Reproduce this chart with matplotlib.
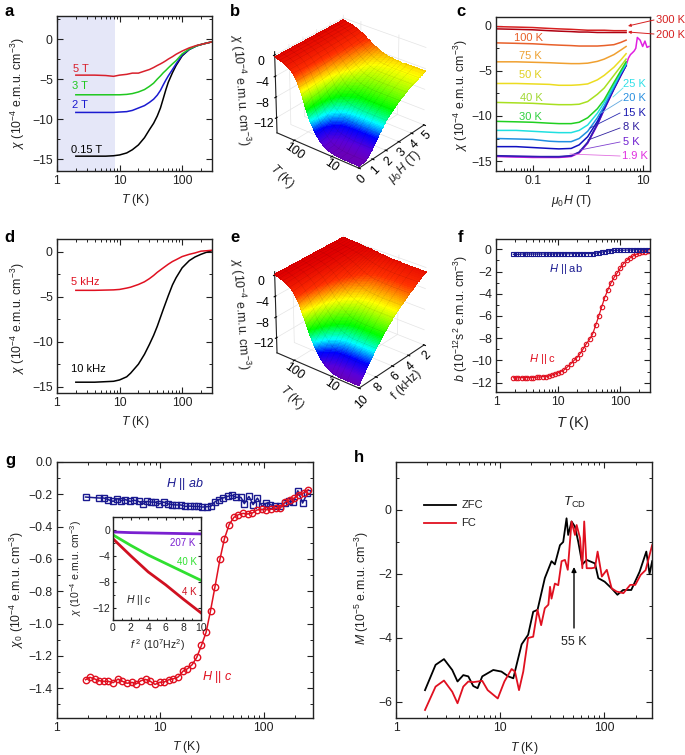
#!/usr/bin/env python3
"""Magnetic susceptibility figure: eight panels a-h."""

import matplotlib
matplotlib.use("Agg")
import matplotlib.pyplot as plt
import numpy as np
from matplotlib.colors import LinearSegmentedColormap
from matplotlib.lines import Line2D
from matplotlib.ticker import LogLocator, MultipleLocator, NullFormatter

plt.rcParams["font.family"] = ["Liberation Sans", "DejaVu Sans"]
plt.rcParams["mathtext.fontset"] = "custom"
plt.rcParams["mathtext.rm"] = "Liberation Sans"
plt.rcParams["mathtext.it"] = "Liberation Sans:italic"
plt.rcParams["mathtext.bf"] = "Liberation Sans:bold"
plt.rcParams["font.size"] = 8.8

W, H = 685, 755
INK = "#222222"
NOTE = 8
AXIS_LABEL = 8.8
CHI_LABEL = r"$\chi$ (10$^{-4}$ e.m.u. cm$^{-3}$)"

# panel a
T_A = [2, 3, 4, 6, 8, 10, 13, 16, 20, 25, 30, 35, 40, 45, 50, 55, 60, 70, 80, 100, 130, 170, 220, 300]
A_015T = [-14.6, -14.6, -14.6, -14.6, -14.55, -14.45, -14.2, -13.8, -13.2, -12.3, -11.3, -10.5, -9.6, -8.6, -7.4, -6.3, -5.4, -4.2, -3.3, -2.1, -1.3, -0.85, -0.6, -0.35]
A_2T = [-9.15, -9.15, -9.15, -9.15, -9.15, -9.1, -9.05, -8.9, -8.6, -8.3, -7.9, -7.5, -7.0, -6.4, -5.7, -5.1, -4.6, -3.8, -3.1, -2.0, -1.3, -0.85, -0.6, -0.35]
A_3T = [-6.95, -6.95, -6.95, -6.95, -6.95, -6.95, -6.9, -6.8, -6.6, -6.3, -5.9, -5.5, -5.0, -4.6, -4.2, -3.9, -3.6, -3.1, -2.7, -1.85, -1.25, -0.85, -0.6, -0.35]
A_5T = [-4.5, -4.5, -4.5, -4.55, -4.65, -4.5, -4.4, -4.25, -4.25, -4.0, -3.8, -3.55, -3.3, -3.1, -2.9, -2.7, -2.5, -2.2, -1.9, -1.5, -1.1, -0.8, -0.6, -0.35]

# panel b and e surfaces
T_SURF = [2, 4, 6, 8, 10, 13, 16, 20, 25, 30, 35, 40, 45, 50, 60, 70, 80, 100, 120, 150, 180, 220, 260, 300]
H_SURF = [0, 0.5, 1, 1.5, 2, 2.5, 3, 3.5, 4, 4.5, 5]
CHI_TH = [
    [-14.6, -14.5, -13.0, -11.0, -9.2, -8.0, -7.0, -6.2, -5.5, -5.0, -4.5],
    [-14.6, -14.5, -13.0, -11.0, -9.2, -8.0, -7.0, -6.2, -5.5, -5.0, -4.5],
    [-14.6, -14.5, -13.0, -11.0, -9.2, -8.0, -7.0, -6.2, -5.5, -5.0, -4.5],
    [-14.5, -14.4, -12.9, -10.9, -9.2, -8.0, -7.0, -6.2, -5.5, -5.0, -4.6],
    [-14.4, -14.3, -12.8, -10.9, -9.1, -8.0, -6.95, -6.15, -5.5, -5.0, -4.5],
    [-14.1, -14.0, -12.6, -10.8, -9.05, -7.9, -6.9, -6.1, -5.45, -4.9, -4.4],
    [-13.7, -13.6, -12.3, -10.6, -8.9, -7.8, -6.8, -6.0, -5.4, -4.85, -4.3],
    [-13.1, -12.9, -11.7, -10.2, -8.6, -7.6, -6.6, -5.9, -5.3, -4.75, -4.25],
    [-12.2, -11.9, -11.0, -9.7, -8.3, -7.3, -6.3, -5.65, -5.1, -4.55, -4.0],
    [-11.2, -10.85, -10.2, -9.2, -7.9, -6.9, -5.9, -5.3, -4.85, -4.3, -3.8],
    [-10.3, -9.8, -9.3, -8.4, -7.4, -6.5, -5.5, -4.95, -4.5, -4.0, -3.55],
    [-9.4, -8.75, -8.4, -7.6, -6.9, -6.0, -5.0, -4.6, -4.2, -3.7, -3.3],
    [-8.4, -7.8, -7.5, -6.9, -6.3, -5.5, -4.6, -4.25, -3.9, -3.45, -3.1],
    [-7.4, -6.6, -6.45, -6.0, -5.5, -4.9, -4.2, -3.85, -3.6, -3.2, -2.9],
    [-5.5, -5.3, -5.1, -4.9, -4.6, -4.1, -3.6, -3.3, -3.05, -2.75, -2.5],
    [-4.3, -4.25, -4.15, -3.95, -3.8, -3.45, -3.1, -2.85, -2.65, -2.4, -2.2],
    [-3.3, -3.25, -3.2, -3.1, -3.0, -2.85, -2.7, -2.45, -2.3, -2.1, -1.9],
    [-2.1, -2.2, -2.25, -2.2, -2.0, -1.95, -1.85, -1.8, -1.7, -1.6, -1.5],
    [-1.6, -1.6, -1.6, -1.55, -1.5, -1.45, -1.4, -1.4, -1.35, -1.3, -1.25],
    [-1.1, -1.1, -1.1, -1.1, -1.05, -1.05, -1.05, -1.0, -1.0, -1.0, -0.95],
    [-0.8, -0.8, -0.8, -0.8, -0.8, -0.8, -0.8, -0.8, -0.75, -0.75, -0.75],
    [-0.6, -0.6, -0.6, -0.6, -0.6, -0.6, -0.6, -0.6, -0.6, -0.6, -0.6],
    [-0.45, -0.45, -0.45, -0.45, -0.45, -0.45, -0.45, -0.45, -0.45, -0.45, -0.45],
    [-0.35, -0.35, -0.35, -0.35, -0.35, -0.35, -0.35, -0.35, -0.35, -0.35, -0.35],
]
F_SURF = [10, 9, 8, 7, 6, 5, 4, 3, 2]
CHI_TF = [
    [-14.5, -11.9, -9.5, -7.5, -5.7, -4.3, -3.0, -1.8, -0.8],
    [-14.5, -11.9, -9.5, -7.5, -5.7, -4.3, -3.0, -1.8, -0.8],
    [-14.5, -11.9, -9.5, -7.5, -5.7, -4.3, -3.0, -1.8, -0.8],
    [-14.4, -11.8, -9.45, -7.45, -5.65, -4.25, -2.95, -1.8, -0.8],
    [-14.2, -11.7, -9.35, -7.4, -5.6, -4.2, -2.9, -1.75, -0.75],
    [-13.7, -11.3, -9.05, -7.2, -5.45, -4.1, -2.85, -1.7, -0.7],
    [-13.2, -10.9, -8.75, -6.95, -5.3, -4.0, -2.8, -1.65, -0.7],
    [-12.4, -10.2, -8.2, -6.5, -5.0, -3.7, -2.6, -1.55, -0.65],
    [-11.3, -9.3, -7.5, -6.0, -4.6, -3.4, -2.4, -1.4, -0.6],
    [-10.2, -8.4, -6.8, -5.4, -4.15, -3.0, -2.15, -1.25, -0.5],
    [-9.1, -7.5, -6.1, -4.9, -3.7, -2.65, -1.9, -1.1, -0.45],
    [-8.2, -6.8, -5.5, -4.4, -3.3, -2.3, -1.7, -1.0, -0.4],
    [-7.2, -6.0, -4.9, -3.9, -2.95, -2.0, -1.5, -0.9, -0.35],
    [-6.3, -5.2, -4.3, -3.4, -2.55, -1.8, -1.3, -0.75, -0.3],
    [-4.8, -4.0, -3.3, -2.6, -1.95, -1.4, -1.0, -0.6, -0.25],
    [-3.6, -3.0, -2.5, -2.0, -1.5, -1.1, -0.8, -0.5, -0.2],
    [-2.8, -2.3, -1.9, -1.55, -1.15, -0.9, -0.65, -0.4, -0.15],
    [-1.8, -1.5, -1.25, -1.0, -0.75, -0.55, -0.4, -0.25, -0.1],
    [-1.2, -1.0, -0.85, -0.65, -0.5, -0.35, -0.25, -0.15, -0.05],
    [-0.7, -0.6, -0.45, -0.35, -0.25, -0.15, -0.1, -0.05, 0.0],
    [-0.45, -0.35, -0.3, -0.2, -0.15, -0.05, 0.0, 0.0, 0.05],
    [-0.2, -0.15, -0.1, -0.05, 0.0, 0.05, 0.05, 0.05, 0.05],
    [-0.05, 0.0, 0.0, 0.05, 0.05, 0.1, 0.1, 0.1, 0.1],
    [0.1, 0.1, 0.1, 0.1, 0.15, 0.15, 0.15, 0.15, 0.15],
]

# panel c
H_C = [0.022, 0.05, 0.1, 0.2, 0.3, 0.5, 0.7, 1, 1.5, 2, 3, 4, 5]
C_300K = [-0.1, -0.15, -0.2, -0.3, -0.35, -0.4, -0.45, -0.5, -0.5, -0.5, -0.55, -0.55, -0.55]
C_200K = [-0.35, -0.4, -0.45, -0.55, -0.6, -0.65, -0.7, -0.7, -0.75, -0.75, -0.75, -0.75, -0.75]
C_100K = [-1.9, -1.95, -2.0, -2.1, -2.15, -2.2, -2.25, -2.25, -2.25, -2.2, -2.1, -1.85, -1.6]
C_75K = [-4.0, -4.0, -4.05, -4.1, -4.15, -4.2, -4.2, -4.15, -3.95, -3.7, -3.2, -2.7, -2.3]
C_50K = [-6.4, -6.4, -6.45, -6.5, -6.6, -6.6, -6.55, -6.45, -6.0, -5.5, -4.6, -3.8, -3.1]
C_40K = [-8.5, -8.55, -8.6, -8.7, -8.75, -8.75, -8.7, -8.4, -7.6, -6.9, -5.5, -4.5, -3.7]
C_30K = [-10.6, -10.65, -10.7, -10.8, -10.85, -10.85, -10.7, -10.2, -9.2, -8.2, -6.3, -5.0, -4.0]
C_25K = [-11.6, -11.6, -11.7, -11.8, -11.85, -11.85, -11.6, -11.0, -9.7, -8.5, -6.6, -5.2, -4.2]
C_20K = [-12.5, -12.55, -12.6, -12.8, -12.85, -12.85, -12.5, -11.7, -10.2, -8.9, -6.8, -5.3, -4.3]
C_15K = [-13.4, -13.4, -13.5, -13.6, -13.65, -13.6, -13.2, -12.3, -10.6, -9.1, -6.9, -5.4, -4.4]
C_8K = [-14.4, -14.45, -14.5, -14.5, -14.5, -14.4, -14.0, -12.9, -10.9, -9.2, -7.0, -5.5, -4.4]
C_5K = [-14.45, -14.5, -14.5, -14.55, -14.55, -14.45, -14.05, -13.0, -10.95, -9.25, -7.0, -5.5, -4.4]
H_19K = [0.022, 0.05, 0.1, 0.2, 0.3, 0.5, 0.7, 1, 1.5, 2, 3, 4, 5, 5.5, 6, 6.5, 7, 7.5, 8, 9, 10, 11, 12, 13]
C_19K = [-14.5, -14.55, -14.6, -14.6, -14.6, -14.5, -14.1, -13.0, -11.0, -9.3, -7.05, -5.55, -4.4, -3.6, -3.2, -3.0, -2.8, -2.5, -1.3, -1.6, -2.3, -1.7, -2.4, -2.3]

# panel d
T_D = [2, 4, 8, 10, 13, 15, 20, 25, 30, 35, 40, 50, 60, 70, 80, 100, 130, 160, 200, 250, 300]
D_10K = [-14.5, -14.5, -14.4, -14.25, -13.9, -13.5, -12.5, -11.4, -10.3, -9.3, -8.3, -6.4, -4.9, -3.7, -2.9, -1.8, -1.0, -0.6, -0.3, -0.05, 0.1]
D_5K = [-4.3, -4.3, -4.25, -4.2, -4.05, -3.95, -3.65, -3.35, -3.0, -2.65, -2.3, -1.8, -1.4, -1.1, -0.9, -0.55, -0.3, -0.15, 0.05, 0.1, 0.15]

# panel f
T_F = [1.9, 2.1, 2.3, 2.6, 2.9, 3.2, 3.6, 4, 4.5, 5, 5.6, 6.3, 7, 8, 9, 10, 11, 12.5, 14, 16, 18, 20, 22.5, 25, 28, 32, 36, 40, 45, 50, 56, 63, 71, 80, 90, 100, 112, 126, 141, 160, 180, 200, 225, 250, 280]
F_C = [-11.55, -11.6, -11.55, -11.55, -11.55, -11.55, -11.55, -11.55, -11.5, -11.5, -11.45, -11.45, -11.4, -11.3, -11.2, -11.1, -11.0, -10.85, -10.6, -10.3, -10.0, -9.75, -9.4, -9.0, -8.55, -8.1, -7.6, -6.85, -6.0, -5.2, -4.35, -3.65, -3.0, -2.5, -2.1, -1.7, -1.3, -1.0, -0.8, -0.6, -0.45, -0.35, -0.25, -0.2, -0.15]
F_AB = [-0.45, -0.45, -0.45, -0.42, -0.42, -0.42, -0.42, -0.42, -0.42, -0.42, -0.42, -0.42, -0.42, -0.42, -0.4, -0.4, -0.4, -0.4, -0.4, -0.4, -0.38, -0.38, -0.38, -0.38, -0.38, -0.38, -0.38, -0.35, -0.3, -0.25, -0.2, -0.15, -0.12, -0.1, -0.08, -0.08, -0.08, -0.06, -0.06, -0.05, -0.03, -0.03, -0.03, -0.03, -0.03]

# panel g
T_G_C = [1.89, 2.08, 2.33, 2.56, 2.84, 3.13, 3.5, 3.9, 4.3, 4.77, 5.3, 5.87, 6.5, 7.2, 8.0, 8.88, 9.85, 10.9, 12.1, 13.4, 14.9, 16.5, 18.3, 20.3, 22.5, 25, 27.7, 30.6, 33.8, 37.7, 41.7, 46.3, 51.4, 57, 63.2, 70.1, 77.7, 86.2, 95.6, 106, 118, 131, 145, 161, 178, 198, 219, 243, 270]
G_C = [-1.348, -1.333, -1.344, -1.354, -1.358, -1.358, -1.366, -1.344, -1.358, -1.37, -1.364, -1.373, -1.354, -1.346, -1.358, -1.377, -1.364, -1.362, -1.348, -1.342, -1.331, -1.296, -1.28, -1.255, -1.21, -1.135, -1.055, -0.92, -0.772, -0.603, -0.475, -0.388, -0.343, -0.326, -0.318, -0.322, -0.316, -0.297, -0.293, -0.295, -0.293, -0.285, -0.285, -0.248, -0.233, -0.223, -0.202, -0.192, -0.171]
T_G_AB = [1.89, 2.56, 2.84, 3.13, 3.5, 3.83, 4.2, 4.6, 5.1, 5.6, 6.2, 6.75, 7.4, 8.1, 8.9, 9.7, 10.8, 11.9, 13, 14.3, 15.8, 17.4, 19.2, 21.1, 23.2, 25.5, 28.1, 30.7, 33.5, 37, 40.4, 44.7, 49.2, 54.5, 60.3, 64.9, 72, 79, 87, 96.5, 106, 116, 128, 143, 160, 176, 194, 214, 238, 265]
G_AB = [-0.217, -0.223, -0.223, -0.233, -0.244, -0.227, -0.24, -0.233, -0.244, -0.237, -0.244, -0.26, -0.244, -0.248, -0.248, -0.26, -0.248, -0.26, -0.264, -0.266, -0.266, -0.275, -0.273, -0.275, -0.275, -0.279, -0.277, -0.275, -0.248, -0.233, -0.223, -0.213, -0.206, -0.219, -0.219, -0.258, -0.213, -0.264, -0.223, -0.275, -0.254, -0.264, -0.275, -0.275, -0.254, -0.244, -0.248, -0.178, -0.254, -0.192]

# g inset
F2_INSET = [0, 2, 4, 6, 8, 10]
INSET_207K = [-0.25, -0.35, -0.4, -0.45, -0.5, -0.55]
INSET_40K = [-0.7, -2.3, -3.8, -5.1, -6.4, -7.7]
INSET_4K = [-1.3, -3.9, -6.4, -8.4, -10.6, -12.7]

# panel h
T_ZFC = [1.9, 2.4, 2.89, 3.47, 3.9, 4.43, 4.95, 5.52, 6.08, 6.74, 8.6, 10.3, 12, 13.4, 14.4, 16.1, 18.6, 20.8, 22.9, 26.9, 31.2, 33.6, 37.6, 40.4, 43.5, 45.1, 48.6, 52.4, 56.4, 61.7, 67.9, 81.6, 87.8, 101, 118, 134, 152, 182, 219, 254, 273, 289]
M_ZFC = [-5.63, -4.84, -4.66, -5.0, -5.36, -5.16, -5.2, -5.5, -5.57, -5.2, -5.0, -5.05, -5.2, -5.26, -4.84, -4.2, -3.9, -3.18, -3.12, -2.13, -1.6, -1.7, -1.1, -1.0, -0.26, -0.78, -0.36, -0.52, -1.0, -1.7, -1.56, -1.67, -2.13, -2.24, -2.45, -2.65, -2.5, -2.5, -1.93, -1.3, -2.0, -1.6]
T_FC = [1.9, 2.4, 2.89, 3.47, 3.9, 4.43, 4.95, 5.52, 6.74, 7.6, 9.5, 11, 12.9, 13.9, 15.2, 16.7, 18.6, 20.8, 22.9, 24.8, 26.9, 29.1, 30.2, 31.2, 33.6, 36.2, 39, 42, 44.7, 48.6, 52.4, 54.4, 58.6, 61.7, 64.3, 67.9, 75.8, 81.6, 86.5, 95, 106, 118, 132, 153, 178, 199, 224, 250, 289]
M_FC = [-6.25, -5.52, -5.33, -5.68, -6.04, -5.52, -5.36, -5.38, -5.34, -5.63, -5.89, -5.36, -4.97, -5.05, -5.63, -5.05, -4.0, -3.96, -3.12, -3.6, -3.07, -2.96, -2.4, -2.77, -2.3, -2.35, -1.6, -1.56, -1.87, -0.36, -0.78, -0.47, -0.88, -1.82, -0.36, -1.82, -1.82, -1.8, -1.3, -2.08, -1.87, -2.45, -2.55, -2.6, -2.34, -2.34, -2.03, -1.88, -1.1]

CHI_COLORS = [(0.0, "#6a00b8"), (0.08, "#5a00d8"), (0.2, "#0000ff"), (0.32, "#00ffff"),
              (0.45, "#00ff00"), (0.66, "#ffff00"), (0.84, "#ff3000"), (1.0, "#e00000")]
CHI_CMAP = LinearSegmentedColormap.from_list("chi", CHI_COLORS)


def fx(x):
    return x / W


def fy(y):
    return 1 - y / H


def box(fig, left, top, right, bottom, **kw):
    return fig.add_axes([fx(left), fy(bottom), (right - left) / W, (bottom - top) / H], **kw)


def label(fig, x, y, text, **kw):
    kw.setdefault("ha", "center")
    kw.setdefault("va", "center")
    kw.setdefault("color", INK)
    kw.setdefault("fontsize", NOTE)
    fig.text(fx(x), fy(y), text, **kw)


def style(ax):
    for spine in ax.spines.values():
        spine.set_linewidth(1.0)
        spine.set_color("#222222")
    ax.tick_params(which="both", direction="in", top=True, right=True, color="#222222", labelcolor=INK, pad=3)
    ax.tick_params(which="major", length=4, width=0.8)
    ax.tick_params(which="minor", length=2.2, width=0.7)


def log_t_axis(ax):
    ax.set_xscale("log")
    ax.set_xlim(1, 300)
    ax.set_xticks([1, 10, 100], ["1", "10", "100"])
    ax.xaxis.set_minor_locator(LogLocator(base=10, subs=np.arange(2, 10)))
    ax.xaxis.set_minor_formatter(NullFormatter())


def y_ticks(ax, lo, hi, major, minor):
    ax.set_ylim(lo, hi)
    ax.yaxis.set_major_locator(MultipleLocator(major))
    ax.yaxis.set_minor_locator(MultipleLocator(minor))


def surface(ax, x_vals, t_vals, table, x_ticks, x_lim):
    x_grid, t_grid = np.meshgrid(x_vals, np.log10(t_vals))
    table = np.asarray(table)
    mid = (table[:-1, :-1] + table[1:, :-1] + table[:-1, 1:] + table[1:, 1:]) / 4
    colors = CHI_CMAP((mid + 14.6) / 14.6)
    ax.computed_zorder = False
    ax.plot_surface(x_grid, t_grid, table, facecolors=colors, shade=False, linewidth=0,
                    antialiased=False, rcount=50, ccount=50, zorder=1)
    # bands drawn over the facets give the smooth colour run of the original surface
    levels = np.linspace(-14.8, 0.4, 90)
    ax.contourf(x_grid, t_grid, table, levels=levels, cmap=CHI_CMAP, vmin=-14.6, vmax=0,
                antialiased=False, zorder=2)
    ax.plot_wireframe(x_grid, t_grid, table, color=(0, 0, 0, 0.13), linewidth=0.3, rcount=50, ccount=50, zorder=3)
    ax.set_xlim(*x_lim)
    ax.set_ylim(np.log10(2), np.log10(300))
    ax.set_yticks([1, 2], ["10", "100"])
    ax.set_zlim(-15, 0.6)
    ax.set_zticks([0, -4, -8, -12], ["0", "\u22124", "\u22128", "\u221212"])
    ax.set_xticks(x_ticks)
    ax.view_init(elev=29, azim=-141)
    ax.set_proj_type("persp", focal_length=1.2)
    ax.set_box_aspect((1, 1, 0.87), zoom=0.8)
    ax.patch.set_alpha(0)
    for axis in (ax.xaxis, ax.yaxis, ax.zaxis):
        axis.set_pane_color((1, 1, 1, 0))
        axis.pane.set_edgecolor("#cccccc")
        axis._axinfo["grid"]["color"] = "#e4e4e4"
        axis._axinfo["grid"]["linewidth"] = 0.5
        axis.line.set_linewidth(0.8)
        axis.line.set_color("#222222")
    ax.tick_params(axis="z", labelsize=8.8, pad=-1)
    ax.tick_params(axis="x", labelsize=8.8, labelrotation=45, pad=-5)
    ax.tick_params(axis="y", labelsize=8.8, labelrotation=-35, pad=-8)


def panel_a(fig):
    ax = box(fig, 57, 16, 212, 171)
    ax.axvspan(1, 8.5, color="#e5e7f8", lw=0)
    ax.plot(T_A, A_015T, color="black", lw=1.1)
    ax.plot(T_A, A_2T, color="#1a1ad0", lw=1.1)
    ax.plot(T_A, A_3T, color="#20c820", lw=1.1)
    ax.plot(T_A, A_5T, color="#d8202c", lw=1.1)
    log_t_axis(ax)
    y_ticks(ax, -16.45, 2.87, 5, 2.5)
    style(ax)
    label(fig, 81, 69, "5 T", color="#d8202c")
    label(fig, 80, 86, "3 T", color="#20c820")
    label(fig, 80, 105, "2 T", color="#1a1ad0")
    label(fig, 87, 150, "0.15 T", color="black")
    label(fig, 135, 200, r"$\mathit{T}$ (K)", fontsize=AXIS_LABEL)
    label(fig, 18, 93, CHI_LABEL, rotation=90, fontsize=AXIS_LABEL)


def panel_b(fig):
    ax = box(fig, 239, -15, 457, 199, projection="3d")
    surface(ax, H_SURF, T_SURF, CHI_TH, [0, 1, 2, 3, 4, 5], (0, 5))
    label(fig, 240, 90, CHI_LABEL, rotation=-86, fontsize=AXIS_LABEL)
    label(fig, 282, 176, r"$\mathit{T}$ (K)", rotation=-45, fontsize=AXIS_LABEL)
    label(fig, 405, 167, r"$\mu_0\mathit{H}$ (T)", rotation=45, fontsize=AXIS_LABEL)


def panel_c(fig):
    ax = box(fig, 496, 16.7, 650, 171)
    curves = [(C_19K, "#e020e0"), (C_5K, "#7010d0"), (C_8K, "#3020b0"), (C_15K, "#1010c0"), (C_20K, "#2090e0"),
              (C_25K, "#20e0e0"), (C_30K, "#20d020"), (C_40K, "#a8e020"), (C_50K, "#ecdc20"),
              (C_75K, "#f0a030"), (C_100K, "#e8602a"), (C_200K, "#b00010"), (C_300K, "#d62020")]
    for values, color in curves:
        x = H_19K if values is C_19K else H_C
        ax.plot(x, values, color=color, lw=1.1)
    ax.set_xscale("log")
    ax.set_xlim(0.0215, 13.6)
    ax.set_xticks([0.1, 1, 10], ["0.1", "1", "10"])
    ax.xaxis.set_minor_locator(LogLocator(base=10, subs=np.arange(2, 10)))
    ax.xaxis.set_minor_formatter(NullFormatter())
    y_ticks(ax, -16.1, 1.0, 5, 2.5)
    style(ax)
    ax.tick_params(which="both", top=False, right=False)
    for text, x, y, color in [("100 K", 528, 38, "#e8602a"), ("75 K", 530, 56, "#eda030"), ("50 K", 530, 75, "#e0d020"),
                              ("40 K", 531, 98, "#a0d830"), ("30 K", 530, 117, "#30d040"), ("25 K", 634, 84, "#30e0e8"),
                              ("20 K", 634, 98, "#2a90e0"), ("15 K", 634, 113, "#1a1ab0"), ("8 K", 631, 127, "#3020a0"),
                              ("5 K", 631, 142, "#7020d0"), ("1.9 K", 635, 156, "#e030e0"), ("300 K", 670, 20, "#d62020"),
                              ("200 K", 670, 35, "#d62020")]:
        label(fig, x, y, text, color=color)
    for x0, y0, x1, y1, color in [(623, 88, 613, 97, "#60e0e8"), (622, 100, 601, 113, "#60a8e0"), (620, 113, 590, 128, "#2a2ab0"),
                                  (620, 128, 588, 140, "#3020a0"), (620, 142, 580, 150, "#8040d0"), (620, 156, 570, 154, "#e070e0")]:
        fig.add_artist(Line2D([fx(x0), fx(x1)], [fy(y0), fy(y1)], color=color, lw=0.6))
    for y0, y1 in [(20, 26), (34, 32)]:
        ax.annotate("", xy=(fx(628), fy(y1)), xytext=(fx(654), fy(y0)), xycoords="figure fraction", textcoords="figure fraction",
                    annotation_clip=False, arrowprops=dict(arrowstyle="-|>", color="#d62020", lw=0.7, mutation_scale=4, shrinkA=0, shrinkB=0))
    label(fig, 572, 201, r"$\mu_0\mathit{H}$ (T)", fontsize=AXIS_LABEL)
    label(fig, 461, 95, CHI_LABEL, rotation=90, fontsize=AXIS_LABEL)


def panel_d(fig):
    ax = box(fig, 57, 239, 212, 393)
    ax.plot(T_D, D_10K, color="black", lw=1.1)
    ax.plot(T_D, D_5K, color="#e01020", lw=1.1)
    log_t_axis(ax)
    y_ticks(ax, -15.7, 1.4, 5, 2.5)
    style(ax)
    label(fig, 85, 282, "5 kHz", color="#e01020")
    label(fig, 88, 369, "10 kHz", color="black")
    label(fig, 135, 422, r"$\mathit{T}$ (K)", fontsize=AXIS_LABEL)
    label(fig, 18, 318, CHI_LABEL, rotation=90, fontsize=AXIS_LABEL)


def panel_e(fig):
    ax = box(fig, 239, 205, 457, 419, projection="3d")
    surface(ax, F_SURF, T_SURF, CHI_TF, [2, 4, 6, 8, 10], (10, 2))
    label(fig, 240, 314, CHI_LABEL, rotation=-86, fontsize=AXIS_LABEL)
    label(fig, 292, 397, r"$\mathit{T}$ (K)", rotation=-45, fontsize=AXIS_LABEL)
    label(fig, 407, 385, r"f (kHz)", rotation=45, fontsize=AXIS_LABEL)


def panel_f(fig):
    ax = box(fig, 496, 239, 650, 392.3)
    ax.plot(T_F, F_C, color="#e01020", lw=0.9, marker="o", ms=3.2, mfc="none", mew=0.8)
    ax.plot(T_F, F_AB, color="#1a1a90", lw=0.9, marker="s", ms=2.8, mfc="none", mew=0.8)
    log_t_axis(ax)
    y_ticks(ax, -12.87, 0.93, 2, 1)
    style(ax)
    label(fig, 566, 269, r"$\mathit{H}$ || ab", color="#1a1a90")
    label(fig, 543, 359, r"$\mathit{H}$ || c", color="#e01020")
    label(fig, 573, 423, r"$\mathit{T}$ (K)", fontsize=10.5)
    label(fig, 461, 318, r"$\mathit{b}$ (10$^{-12}$s$^{2}$ e.m.u. cm$^{-3}$)", rotation=90, fontsize=AXIS_LABEL)


def panel_g(fig):
    ax = box(fig, 57, 462, 313, 718)
    ax.plot(T_G_AB, G_AB, color="#1a1a90", lw=1.1, marker="s", ms=4.2, mfc="none", mew=1)
    ax.plot(T_G_C, G_C, color="#e01020", lw=1.1, marker="o", ms=4.6, mfc="none", mew=1)
    log_t_axis(ax)
    y_ticks(ax, -1.585, 0.0, 0.2, 0.1)
    ax.yaxis.set_major_formatter(lambda v, pos: f"{v:.1f}".replace("-", "\u2212"))
    style(ax)
    label(fig, 185, 484, r"$\mathit{H}$ || $\mathit{ab}$", color="#1a1a90", fontsize=9)
    label(fig, 217, 677, r"$\mathit{H}$ || $\mathit{c}$", color="#e01020", fontsize=9)
    label(fig, 186, 747, r"$\mathit{T}$ (K)", fontsize=AXIS_LABEL)
    label(fig, 17, 590, r"$\chi_0$ (10$^{-4}$ e.m.u. cm$^{-3}$)", rotation=90, fontsize=AXIS_LABEL)

    inset = box(fig, 113, 516.7, 201, 620)
    inset.plot(F2_INSET, INSET_4K, color="#d01020", lw=2)
    inset.plot(F2_INSET, INSET_40K, color="#30e030", lw=2)
    inset.plot(F2_INSET, INSET_207K, color="#7a20d0", lw=2)
    inset.set_xlim(0, 10)
    inset.xaxis.set_major_locator(MultipleLocator(2))
    inset.xaxis.set_minor_locator(MultipleLocator(1))
    y_ticks(inset, -13.8, 2.1, 4, 2)
    style(inset)
    inset.tick_params(which="both", labelsize=7.5, pad=2)
    inset.tick_params(which="major", length=2.5)
    inset.tick_params(which="minor", length=1.5)
    label(fig, 183, 543, "207 K", color="#7a20d0", fontsize=7)
    label(fig, 187, 562, "40 K", color="#30e030", fontsize=7)
    label(fig, 189, 592, "4 K", color="#d01020", fontsize=7)
    label(fig, 139, 600, r"$\mathit{H}$ || $\mathit{c}$", fontsize=7.5)
    label(fig, 157, 645, r"$\mathit{f}^{\ 2}$ (10$^{7}$Hz$^{2}$)", fontsize=7.6)
    label(fig, 76, 568, CHI_LABEL, rotation=90, fontsize=7.6)


def panel_h(fig):
    ax = box(fig, 396, 462.3, 652.3, 718.3)
    ax.plot(T_ZFC, M_ZFC, color="black", lw=1.3)
    ax.plot(T_FC, M_FC, color="#e01020", lw=1.3)
    ax.set_xscale("log")
    ax.set_xlim(1, 290)
    ax.set_xticks([1, 10, 100], ["1", "10", "100"])
    ax.xaxis.set_minor_locator(LogLocator(base=10, subs=np.arange(2, 10)))
    ax.xaxis.set_minor_formatter(NullFormatter())
    y_ticks(ax, -6.51, 1.49, 2, 1)
    style(ax)
    fig.add_artist(Line2D([fx(424), fx(456)], [fy(505), fy(505)], color="black", lw=1.3))
    fig.add_artist(Line2D([fx(424), fx(456)], [fy(523), fy(523)], color="#e01020", lw=1.3))
    label(fig, 472, 505, "ZFC")
    label(fig, 469, 523, "FC")
    label(fig, 575, 502, r"$\mathit{T}_{\mathrm{CD}}$", fontsize=9.5)
    label(fig, 574, 642, "55 K", fontsize=9)
    ax.annotate("", xy=(fx(574), fy(567)), xytext=(fx(574), fy(628)), xycoords="figure fraction", textcoords="figure fraction",
                arrowprops=dict(arrowstyle="-|>", color="black", lw=1, mutation_scale=7, shrinkA=0, shrinkB=0))
    label(fig, 524, 748, r"$\mathit{T}$ (K)", fontsize=AXIS_LABEL)
    label(fig, 362, 588, r"$\mathit{M}$ (10$^{-5}$ e.m.u. cm$^{-3}$)", rotation=90, fontsize=AXIS_LABEL)


def main():
    fig = plt.figure(figsize=(W / 100, H / 100), dpi=100)
    panel_b(fig)
    panel_e(fig)
    panel_a(fig)
    panel_c(fig)
    panel_d(fig)
    panel_f(fig)
    panel_g(fig)
    panel_h(fig)
    for letter, x, y in [("a", 9, 11), ("b", 235, 11), ("c", 461, 11), ("d", 9, 237), ("e", 235, 237),
                         ("f", 461, 237), ("g", 10, 460), ("h", 359, 458)]:
        label(fig, x, y, letter, fontsize=12, fontweight="bold", color="black")
    fig.savefig("out.png", dpi=100)
    plt.close(fig)


if __name__ == "__main__":
    main()
